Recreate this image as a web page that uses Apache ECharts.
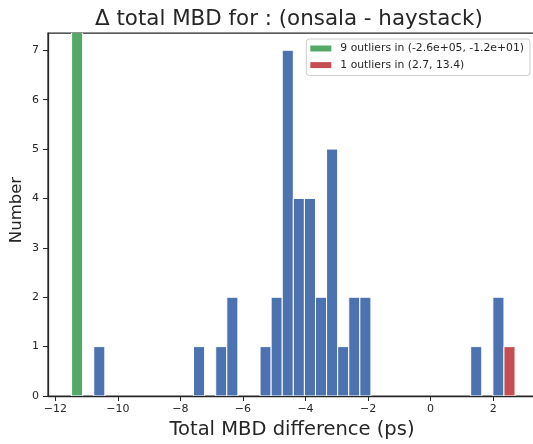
<!DOCTYPE html>
<html>
<head>
<meta charset="utf-8">
<script src="https://cdn.jsdelivr.net/npm/echarts@6/dist/echarts.min.js"></script>
<style>
html,body{margin:0;padding:0;background:#fff;}
#chart{width:533px;height:444px;}
</style>
</head>
<body>
<div id="chart"></div>
<script>
// Histogram bin layout (bin edges)
const binStart = -11.48;
const binWidth = 0.3545;
// Counts per bin (40 bins) for the in-range data
const blueCounts = [0,0,1,0,0,0,0,0,0,0, 0,1,0,1,2,0,0,1,2,7, 4,4,2,5,1,2,2,0,0,0, 0,0,0,0,0,0,1,0,2,0];
// Outlier bars
const lowOutlierBin = 0;
const lowOutlierCount = 9;
const highOutlierBin = 39;
const highOutlierCount = 1;
const lowLabel = '9 outliers in (-2.6e+05, -1.2e+01)';
const highLabel = '1 outliers in (2.7, 13.4)';
const xTicks = [-12, -10, -8, -6, -4, -2, 0, 2];
const yTicks = [0, 1, 2, 3, 4, 5, 6, 7];

function toRows(counts) {
  const rows = [];
  counts.forEach((c, i) => {
    if (c > 0) rows.push([binStart + i * binWidth, binStart + (i + 1) * binWidth, c]);
  });
  return rows;
}
const blueData = toRows(blueCounts);
const greenData = [[binStart + lowOutlierBin * binWidth, binStart + (lowOutlierBin + 1) * binWidth, lowOutlierCount]];
const redData = [[binStart + highOutlierBin * binWidth, binStart + (highOutlierBin + 1) * binWidth, highOutlierCount]];

function renderBar(params, api) {
  const p0 = api.coord([api.value(0), api.value(2)]);
  const p1 = api.coord([api.value(1), 0]);
  return {
    type: 'rect',
    shape: { x: p0[0], y: p0[1], width: p1[0] - p0[0], height: p1[1] - p0[1] },
    style: { fill: api.visual('color'), stroke: '#ffffff', lineWidth: 1 }
  };
}
const fmt = v => String(v).replace('-', '\u2212');
const FONT = 'DejaVu Sans';
const dark = '#262626';

const chart = echarts.init(document.getElementById('chart'), null, { renderer: 'canvas' });
chart.setOption({
  backgroundColor: '#ffffff',
  animation: false,
  title: {
    text: 'Δ total MBD for : (onsala - haystack)',
    left: 90, top: 4,
    textStyle: { fontFamily: FONT, fontSize: 21.4, fontWeight: 'normal', color: dark }
  },
  legend: {
    orient: 'vertical', right: 3, top: 39,
    data: [
      { name: lowLabel, icon: 'rect' },
      { name: highLabel, icon: 'rect' }
    ],
    itemWidth: 21, itemHeight: 6, itemGap: 4.6,
    padding: [3.5, 6, 4.5, 4],
    borderColor: '#cccccc', borderWidth: 1, borderRadius: 3,
    backgroundColor: '#ffffff',
    textStyle: { fontFamily: FONT, fontSize: 10.8, lineHeight: 12, color: dark, padding: [0, 0, 0, 4] },
    selectedMode: false
  },
  grid: {
    left: 48, top: 33, bottom: 48, right: -3,
    outerBoundsMode: 'none', containLabel: false,
    show: true, borderColor: dark, borderWidth: 1.25, backgroundColor: 'transparent'
  },
  xAxis: {
    type: 'value', min: -12.234, max: 3.37, z: 10,
    name: 'Total MBD difference (ps)', nameLocation: 'middle', nameGap: 24,
    nameTextStyle: { fontFamily: FONT, fontSize: 19.5, color: dark },
    axisLine: { show: true, onZero: false, lineStyle: { color: dark, width: 1.25 } },
    axisTick: { show: true, length: 5, customValues: xTicks, lineStyle: { color: dark, width: 1 } },
    axisLabel: { customValues: xTicks, formatter: fmt, margin: 8, fontFamily: FONT, fontSize: 11, color: dark },
    splitLine: { show: false }
  },
  yAxis: {
    type: 'value', min: 0, max: 7.35, z: 10,
    name: 'Number', nameLocation: 'middle', nameGap: 23, nameMoveOverlap: false,
    nameTextStyle: { fontFamily: FONT, fontSize: 16.5, color: dark, padding: [0, 0, 0, 9] },
    axisLine: { show: true, onZero: false, lineStyle: { color: dark, width: 1.25 } },
    axisTick: { show: true, length: 5, customValues: yTicks, lineStyle: { color: dark, width: 1 } },
    axisLabel: { customValues: yTicks, formatter: fmt, margin: 9, fontFamily: FONT, fontSize: 11, color: dark },
    splitLine: { show: false }
  },
  series: [
    { name: 'in range', type: 'custom', renderItem: renderBar, data: blueData, clip: true,
      itemStyle: { color: '#4c72b0' }, encode: { x: [0, 1], y: 2 } },
    { name: lowLabel, type: 'custom', renderItem: renderBar, data: greenData, clip: true,
      itemStyle: { color: '#55a868' }, encode: { x: [0, 1], y: 2 } },
    { name: highLabel, type: 'custom', renderItem: renderBar, data: redData, clip: true,
      itemStyle: { color: '#c44e52' }, encode: { x: [0, 1], y: 2 } }
  ]
});
</script>
</body>
</html>
